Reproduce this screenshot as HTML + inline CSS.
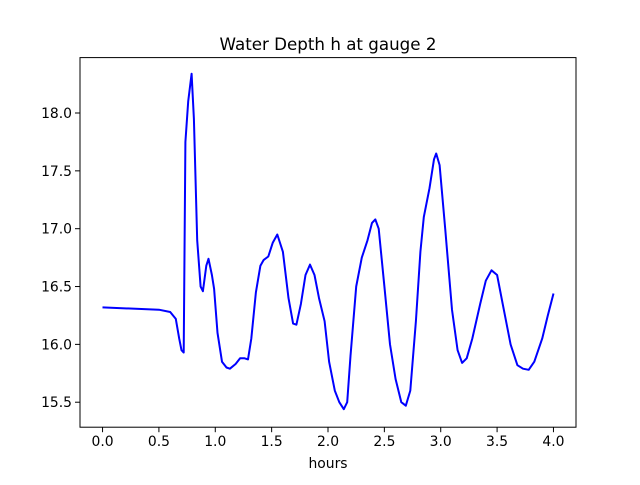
<!DOCTYPE html>
<html><head><meta charset="utf-8"><style>
body{margin:0;background:#fff}
text{font-family:"DejaVu Sans","Liberation Sans",sans-serif}
</style></head><body>
<svg id="chart" width="640" height="480" xmlns="http://www.w3.org/2000/svg">
<rect width="640" height="480" fill="#fff"/>
<text x="328" y="50" font-size="16.7" text-anchor="middle">Water Depth h at gauge 2</text>
<g id="axes"></g>
<text x="328" y="468" font-size="13.9" text-anchor="middle">hours</text>
</svg>
<script>
const hours=[0,0.5,0.6,0.65,0.68,0.7,0.72,0.735,0.76,0.79,0.81,0.84,0.87,0.89,0.92,0.94,0.97,0.99,1.02,1.06,1.1,1.13,1.18,1.22,1.26,1.29,1.32,1.36,1.4,1.43,1.47,1.51,1.55,1.6,1.65,1.69,1.72,1.76,1.8,1.84,1.88,1.92,1.97,2.01,2.06,2.1,2.14,2.17,2.2,2.25,2.3,2.35,2.39,2.42,2.45,2.5,2.55,2.6,2.65,2.69,2.73,2.78,2.82,2.85,2.9,2.94,2.96,2.99,3.04,3.1,3.15,3.19,3.23,3.28,3.35,3.4,3.45,3.5,3.55,3.62,3.68,3.73,3.78,3.83,3.9,3.95,4.0];
const depth=[16.32,16.30,16.28,16.22,16.05,15.95,15.93,17.75,18.1,18.34,17.95,16.9,16.5,16.46,16.68,16.74,16.6,16.48,16.1,15.85,15.8,15.79,15.83,15.88,15.88,15.87,16.05,16.45,16.68,16.73,16.76,16.88,16.95,16.8,16.4,16.18,16.17,16.35,16.6,16.69,16.6,16.4,16.2,15.85,15.6,15.5,15.44,15.5,15.9,16.5,16.75,16.9,17.05,17.08,17.0,16.5,16.0,15.7,15.5,15.47,15.6,16.2,16.8,17.1,17.35,17.6,17.65,17.55,17.0,16.3,15.95,15.84,15.88,16.05,16.35,16.55,16.64,16.6,16.35,16.0,15.82,15.79,15.78,15.85,16.05,16.25,16.44];
const xTicks=["0.0","0.5","1.0","1.5","2.0","2.5","3.0","3.5","4.0"];
const yTicks=["15.5","16.0","16.5","17.0","17.5","18.0"];
const L=80,R=576,T=57.6,B=427.2,x0=-0.2,x1=4.2,y0=15.284,y1=18.479;
const sx=v=>L+(v-x0)/(x1-x0)*(R-L), sy=v=>B-(v-y0)/(y1-y0)*(B-T);
const g=document.getElementById('axes'),NS="http://www.w3.org/2000/svg";
function mk(t,a){const e=document.createElementNS(NS,t);for(const k in a)e.setAttribute(k,a[k]);g.appendChild(e);return e;}
let d="";hours.forEach((h,i)=>{d+=(i?"L":"M")+sx(h).toFixed(1)+","+sy(depth[i]).toFixed(1);});
const line=mk('path',{d:d,fill:"none",stroke:"#0000ff","stroke-width":2,"stroke-linejoin":"round"});


const frame=mk('rect',{x:L,y:T,width:R-L,height:B-T,fill:"none",stroke:"#000","stroke-width":1});


xTicks.forEach(t=>{const x=sx(+t);mk('line',{x1:x,x2:x,y1:B,y2:B+5,stroke:"#000"});
const tx=mk('text',{x:x,y:B+19,"font-size":13.9,"text-anchor":"middle"});tx.textContent=t;

});
yTicks.forEach(t=>{const y=sy(+t);mk('line',{x1:L-5,x2:L,y1:y,y2:y,stroke:"#000"});
const tx=mk('text',{x:L-8,y:y+5,"font-size":13.9,"text-anchor":"end"});tx.textContent=t;

});
</script>
</body></html>
